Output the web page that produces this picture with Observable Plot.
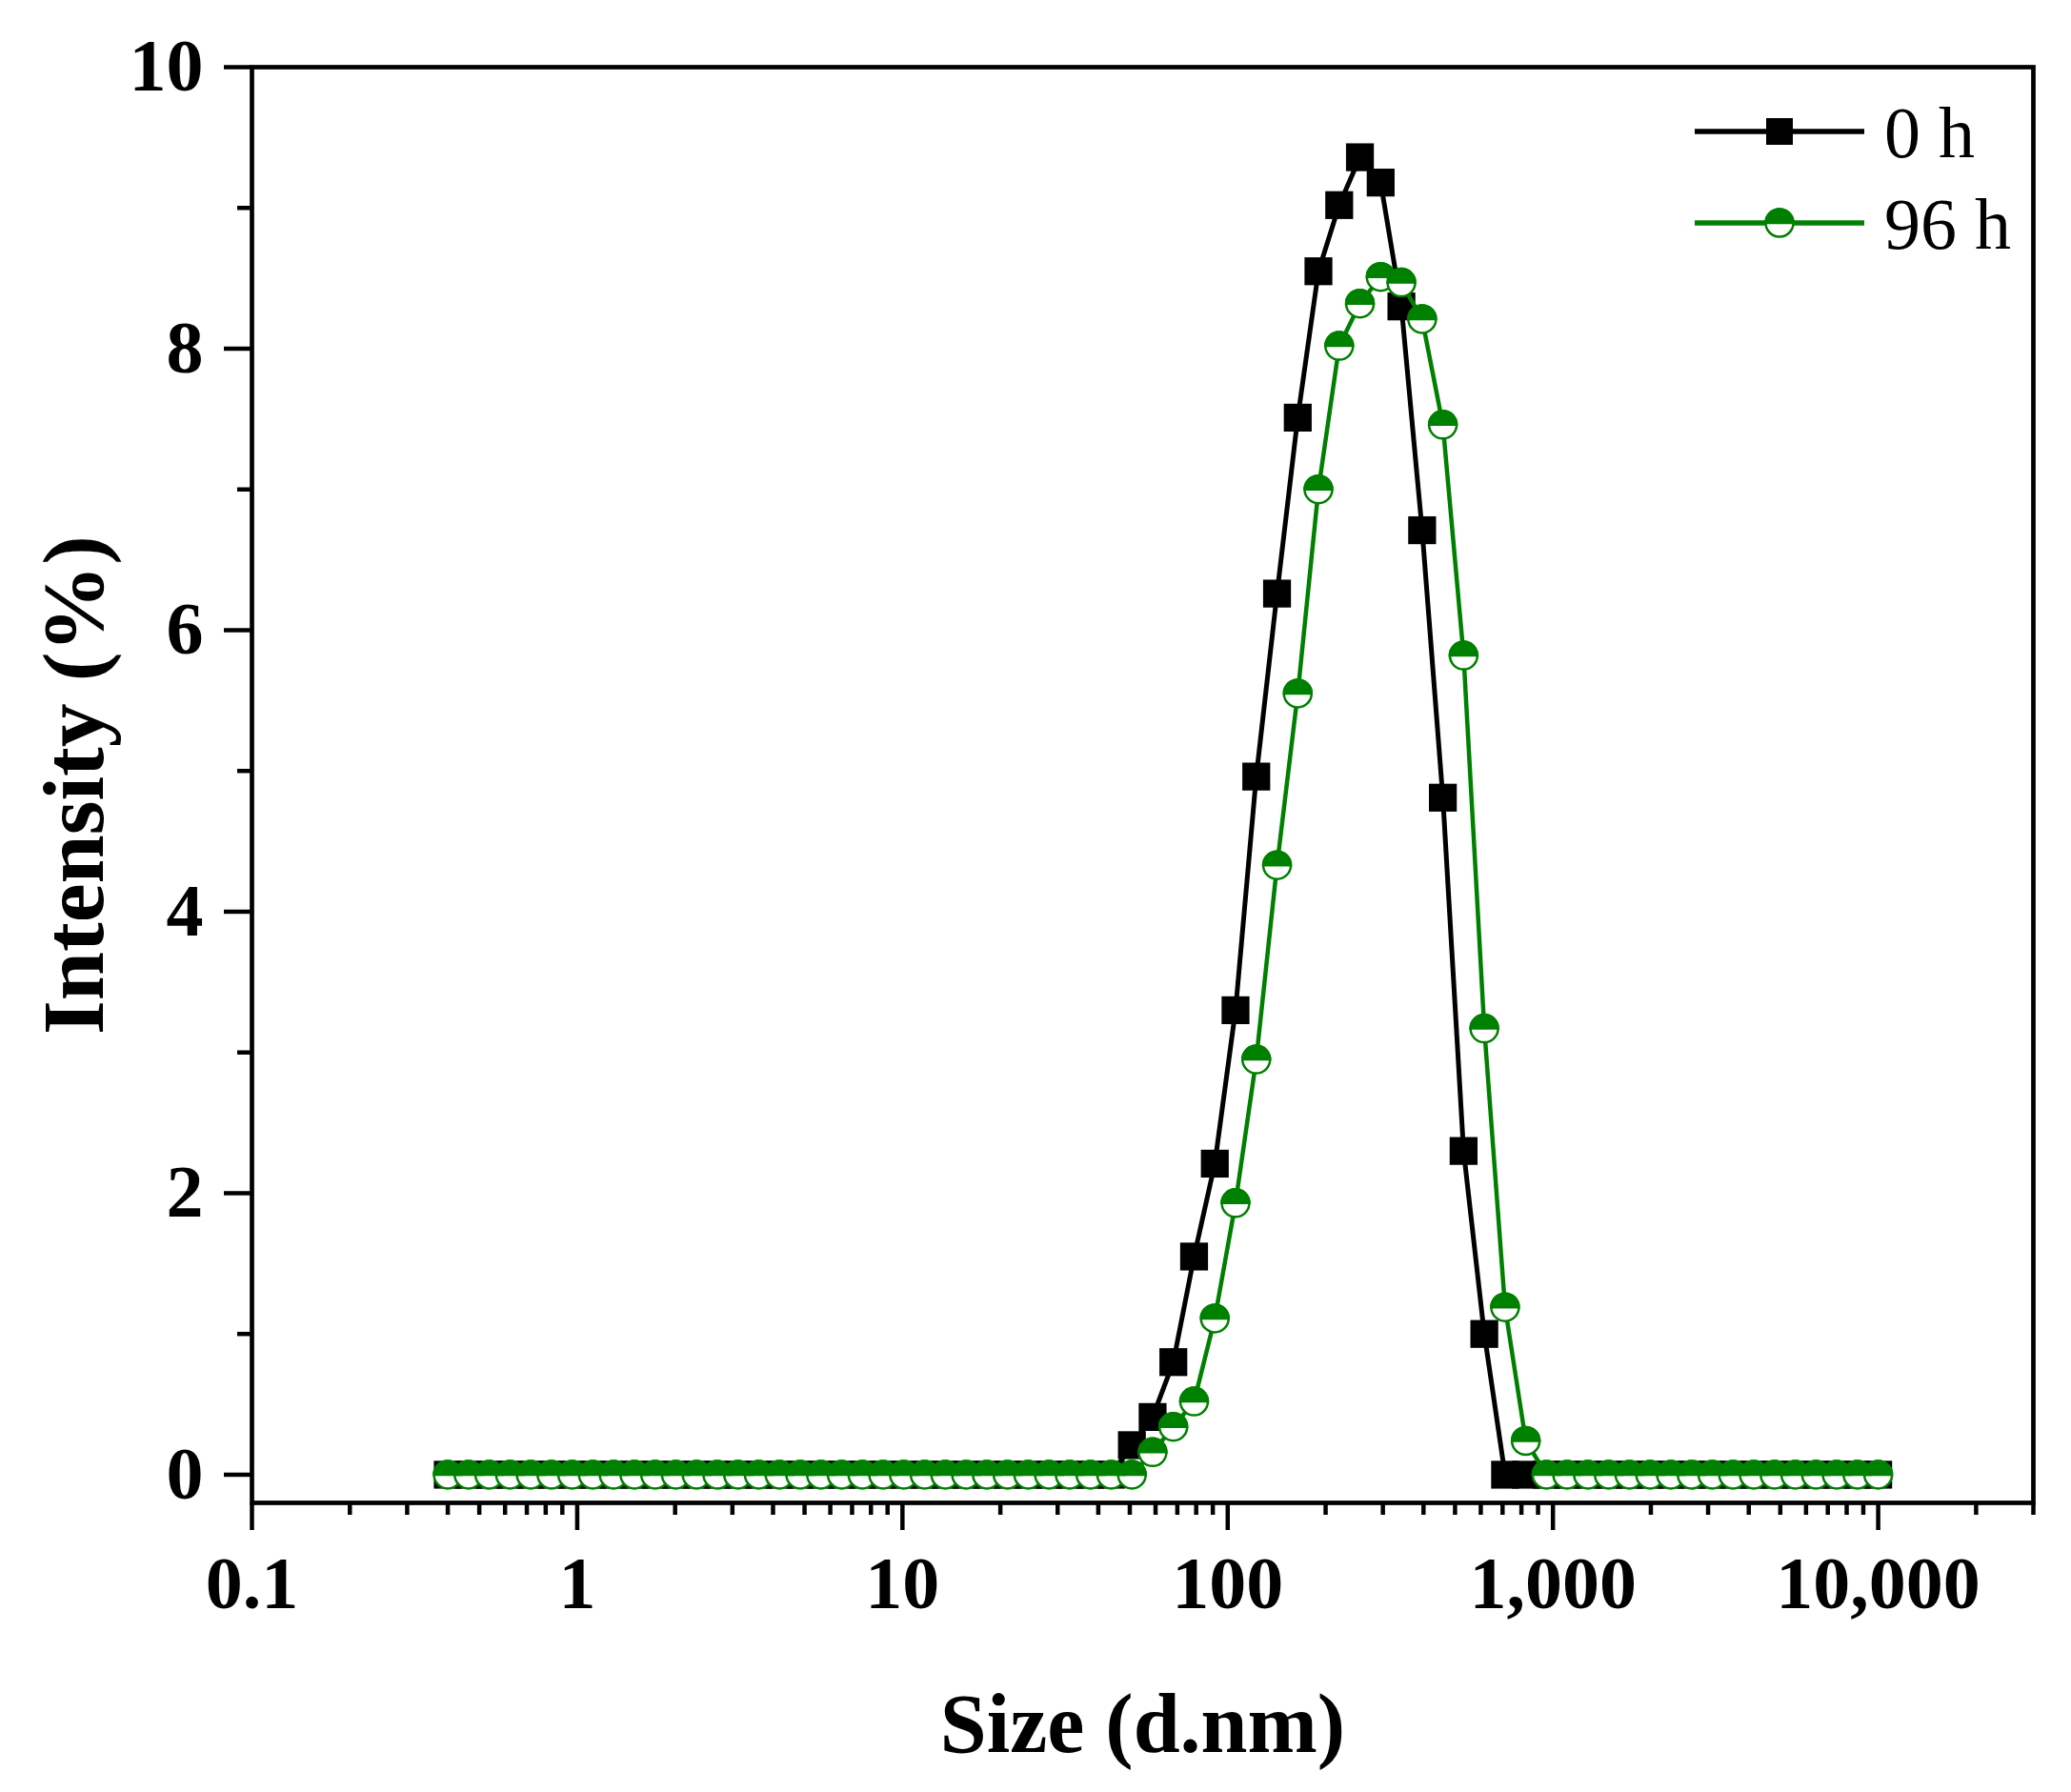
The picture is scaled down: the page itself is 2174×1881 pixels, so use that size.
<!DOCTYPE html>
<html>
<head>
<meta charset="utf-8">
<script src="https://cdn.jsdelivr.net/npm/d3@7"></script>
<script src="https://cdn.jsdelivr.net/npm/@observablehq/plot@0.6"></script>
<style>
html, body { margin: 0; padding: 0; background: #fff; }
#wrap { position: relative; width: 2174px; height: 1881px; }
#legend { position: absolute; left: 0; top: 0; pointer-events: none; }
</style>
</head>
<body>
<div id="wrap"></div>
<script>
// Size bins (d.nm)
const sizes = [0.4, 0.4632, 0.5365, 0.6213, 0.7195, 0.8332, 0.9649, 1.117, 1.294, 1.499,
  1.736, 2.010, 2.328, 2.696, 3.122, 3.615, 4.187, 4.849, 5.615, 6.503,
  7.531, 8.721, 10.10, 11.70, 13.54, 15.69, 18.17, 21.04, 24.36, 28.21,
  32.67, 37.84, 43.82, 50.75, 58.77, 68.06, 78.82, 91.28, 105.7, 122.4,
  141.8, 164.2, 190.1, 220.2, 255.0, 295.3, 342.0, 396.1, 458.7, 531.2,
  615.1, 712.4, 825.0, 955.4, 1106, 1281, 1484, 1718, 1990, 2305,
  2669, 3091, 3580, 4145, 4801, 5560, 6439, 7456, 8635, 10000];

// Intensity (%) at 0 h
const intensity0h = [0, 0, 0, 0, 0, 0, 0, 0, 0, 0,
  0, 0, 0, 0, 0, 0, 0, 0, 0, 0,
  0, 0, 0, 0, 0, 0, 0, 0, 0, 0,
  0, 0, 0, 0.21, 0.41, 0.80, 1.55, 2.21, 3.30, 4.96,
  6.26, 7.51, 8.55, 9.02, 9.36, 9.18, 8.30, 6.71, 4.81, 2.30,
  1.00, 0, 0, 0, 0, 0, 0, 0, 0, 0,
  0, 0, 0, 0, 0, 0, 0, 0, 0, 0];

// Intensity (%) at 96 h
const intensity96h = [0, 0, 0, 0, 0, 0, 0, 0, 0, 0,
  0, 0, 0, 0, 0, 0, 0, 0, 0, 0,
  0, 0, 0, 0, 0, 0, 0, 0, 0, 0,
  0, 0, 0, 0, 0.16, 0.34, 0.52, 1.11, 1.93, 2.95,
  4.33, 5.55, 7.00, 8.02, 8.32, 8.51, 8.47, 8.21, 7.46, 5.82,
  3.17, 1.19, 0.24, 0, 0, 0, 0, 0, 0, 0,
  0, 0, 0, 0, 0, 0, 0, 0, 0, 0];

const seriesNames = ["0 h", "96 h"];
const xTicks = [0.1, 1, 10, 100, 1000, 10000];
const xTickLabels = ["0.1", "1", "10", "100", "1,000", "10,000"];
const yTicks = [0, 2, 4, 6, 8, 10];
const yTickLabels = ["0", "2", "4", "6", "8", "10"];
const yMinorTicks = [1, 3, 5, 7, 9];
const xTitle = "Size (d.nm)";
const yTitle = "Intensity (%)";

const xMinorTicks = [];
for (const dec of [0.1, 1, 10, 100, 1000, 10000]) {
  for (let k = 2; k <= 9; k++) {
    const v = +(k * dec).toPrecision(3);
    if (v <= 30000) xMinorTicks.push(v);
  }
}

const rows0 = sizes.map((s, i) => ({size: s, value: intensity0h[i]}));
const rows96 = sizes.map((s, i) => ({size: s, value: intensity96h[i]}));

const font = "'Liberation Serif', 'Times New Roman', serif";
const green = "#008000";

const halfCircle = {
  draw(context, size) {
    const r = Math.sqrt(size / Math.PI);
    context.moveTo(-r, 0);
    context.arc(0, 0, r, Math.PI, 2 * Math.PI);
    context.closePath();
  }
};

const plot = Plot.plot({
  width: 2174,
  height: 1881,
  marginLeft: 264,
  marginRight: 40,
  marginTop: 70,
  marginBottom: 304,
  style: {fontFamily: font, background: "white", color: "black"},
  x: {type: "log", domain: [0.1, 30000]},
  y: {domain: [-0.2, 10]},
  marks: [
    Plot.line(rows0, {x: "size", y: "value", stroke: "#000", strokeWidth: 5}),
    Plot.dot(rows0, {x: "size", y: "value", symbol: "square", r: 16.5, fill: "#000", stroke: "none"}),
    Plot.line(rows96, {x: "size", y: "value", stroke: green, strokeWidth: 4.5}),
    Plot.dot(rows96, {x: "size", y: "value", r: 14.5, fill: "#fff", stroke: green, strokeWidth: 2.5}),
    Plot.dot(rows96, {x: "size", y: "value", r: 14.5, symbol: halfCircle, fill: green, stroke: green, strokeWidth: 2.5}),
    Plot.axisX(xMinorTicks, {tickSize: 13, strokeWidth: 4.5, tickFormat: () => "", label: null}),
    Plot.axisX(xTicks, {tickSize: 29, strokeWidth: 4.5, tickPadding: 26,
      tickFormat: d => xTickLabels[xTicks.indexOf(d)],
      fontSize: 78, fontWeight: "bold", label: null}),
    Plot.axisY(yMinorTicks, {tickSize: 15, strokeWidth: 4.5, tickFormat: () => "", label: null}),
    Plot.axisY(yTicks, {tickSize: 29, strokeWidth: 4.5, tickPadding: 22,
      tickFormat: d => yTickLabels[yTicks.indexOf(d)],
      fontSize: 78, fontWeight: "bold", label: null}),
    Plot.frame({stroke: "#000", strokeWidth: 4.7}),
    Plot.text([xTitle], {frameAnchor: "bottom", dy: 233, textAnchor: "middle", lineAnchor: "middle",
      fontSize: 88, fontWeight: "bold", fill: "#000"}),
    Plot.text([yTitle], {frameAnchor: "left", dx: -186, rotate: -90, textAnchor: "middle", lineAnchor: "middle",
      fontSize: 92, fontWeight: "bold", fill: "#000"})
  ]
});

const wrap = document.getElementById("wrap");
wrap.appendChild(plot);

// Legend overlay
const ns = "http://www.w3.org/2000/svg";
const leg = d3.create("svg")
  .attr("id", "legend")
  .attr("xmlns", ns)
  .attr("width", 2174)
  .attr("height", 1881)
  .style("font-family", font);

const rowsLeg = [
  {name: seriesNames[0], color: "#000", kind: "square", y: 138},
  {name: seriesNames[1], color: green, kind: "half", y: 234}
];
for (const r of rowsLeg) {
  leg.append("line").attr("x1", 1779).attr("x2", 1957).attr("y1", r.y).attr("y2", r.y)
    .attr("stroke", r.color).attr("stroke-width", 5.5);
  if (r.kind === "square") {
    leg.append("rect").attr("x", 1868 - 14).attr("y", r.y - 14).attr("width", 28).attr("height", 28).attr("fill", "#000");
  } else {
    leg.append("circle").attr("cx", 1868).attr("cy", r.y).attr("r", 14.5)
      .attr("fill", "#fff").attr("stroke", green).attr("stroke-width", 2.5);
    leg.append("path").attr("d", d3.symbol(halfCircle, Math.PI * 14.5 * 14.5)())
      .attr("transform", `translate(1868,${r.y})`)
      .attr("fill", green).attr("stroke", green).attr("stroke-width", 2.5);
  }
  leg.append("text").attr("x", 1978).attr("y", r.y + 27)
    .attr("font-size", 76).attr("fill", "#000").text(r.name);
}
wrap.appendChild(leg.node());
</script>
</body>
</html>
